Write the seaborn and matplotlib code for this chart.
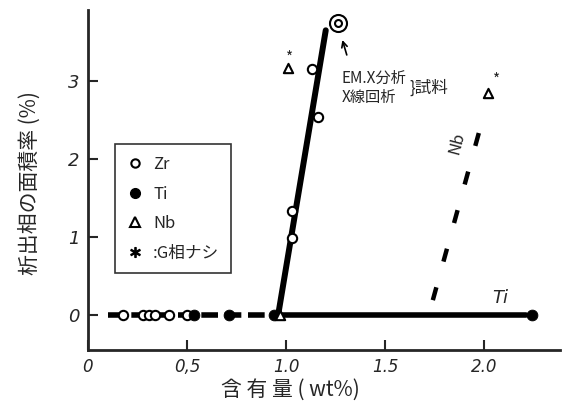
import numpy as np
import pandas as pd
import matplotlib
matplotlib.use("Agg")
import matplotlib.pyplot as plt
from matplotlib.lines import Line2D
import seaborn as sns

# data
zr_x = [0.18, 0.28, 0.31, 0.34, 0.41, 0.50, 1.03, 1.03, 1.16, 1.13]
zr_y = [0, 0, 0, 0, 0, 0, 0.99, 1.33, 2.54, 3.15]
ti_x = [0.535, 0.71, 0.94, 2.24]
ti_y = [0, 0, 0, 0]
nb_x = [0.97, 1.01, 2.02]
nb_y = [0, 3.17, 2.85]
emx_x = [1.26]
emx_y = [3.74]

# drawn lines
ti_dash_x = [0.10, 0.93]
ti_dash_y = [0, 0]
ti_solid_x = [0.97, 2.21]
ti_solid_y = [0, 0]
zr_line_x = [0.96, 1.20]
zr_line_y = [0, 3.65]
nb_line_x = [1.74, 1.99]
nb_line_y = [0.19, 2.50]

x_ticks = [0, 0.5, 1.0, 1.5, 2.0]
x_ticklabels = ["0", "0,5", "1.0", "1.5", "2.0"]
y_ticks = [0, 1, 2, 3]

sns.set_style("ticks")
plt.rcParams["font.family"] = ["Noto Sans CJK JP", "DejaVu Sans"]

fig = plt.figure(figsize=(5.7, 4.01), dpi=100)
ax = fig.add_axes([0.154, 0.127, 0.828, 0.848])

# lines
sns.lineplot(x=ti_dash_x, y=ti_dash_y, ax=ax, color="black", lw=4,
             linestyle=(0, (3, 1.2)))
sns.lineplot(x=ti_solid_x, y=ti_solid_y, ax=ax, color="black", lw=4)
sns.lineplot(x=zr_line_x, y=zr_line_y, ax=ax, color="black", lw=4.3)
sns.lineplot(x=nb_line_x, y=nb_line_y, ax=ax, color="black", lw=3.2,
             linestyle=(0, (3, 6)))

# markers
sns.scatterplot(x=zr_x, y=zr_y, ax=ax, marker="o", s=45, facecolor="white",
                edgecolor="black", linewidth=1.5, zorder=5)
sns.scatterplot(x=ti_x, y=ti_y, ax=ax, marker="o", s=60, color="black",
                edgecolor="black", zorder=6)
sns.scatterplot(x=nb_x, y=nb_y, ax=ax, marker="^", s=45, facecolor="white",
                edgecolor="black", linewidth=1.5, zorder=7)
sns.scatterplot(x=emx_x, y=emx_y, ax=ax, marker="o", s=150, facecolor="white",
                edgecolor="black", linewidth=1.5, zorder=5)
sns.scatterplot(x=emx_x, y=emx_y, ax=ax, marker="o", s=25, facecolor="white",
                edgecolor="black", linewidth=1.5, zorder=6)

# annotations
ax.text(1.02, 3.29, "*", fontsize=11, ha="center", va="center")
ax.text(2.06, 3.01, "*", fontsize=11, ha="center", va="center")
ax.text(2.08, 0.22, "Ti", fontsize=13, family="DejaVu Sans", style="italic",
        ha="center", va="center")
ax.text(1.86, 2.2, "Nb", fontsize=12, rotation=75, ha="center", va="center")
ax.text(1.28, 2.91, "EM.X分析\nX線回析", fontsize=11, ha="left", va="center",
        linespacing=1.15)
ax.text(1.62, 2.91, "}試料", fontsize=12, ha="left", va="center")
ax.annotate("", xy=(1.28, 3.56), xytext=(1.31, 3.30),
            arrowprops=dict(arrowstyle="->", color="black", lw=1.2))

# legend
handles = [
    Line2D([], [], marker="o", ls="", mfc="white", mec="black", mew=1.5, ms=6),
    Line2D([], [], marker="o", ls="", mfc="black", mec="black", ms=7),
    Line2D([], [], marker="^", ls="", mfc="white", mec="black", mew=1.5, ms=7),
    Line2D([], [], marker="$*$", ls="", color="black", ms=7),
]
labels = ["Zr", "Ti", "Nb", ":G相ナシ"]
leg = ax.legend(handles, labels, loc="lower left", bbox_to_anchor=(0.057, 0.226),
                fontsize=12, frameon=True, fancybox=False, edgecolor="black",
                labelspacing=0.75, handlelength=1.0, handletextpad=0.6,
                borderpad=0.7, borderaxespad=0)
leg.get_frame().set_linewidth(1.2)

# axes
ax.set_xlim(0, 2.38)
ax.set_ylim(-0.45, 3.91)
ax.set_xticks(x_ticks)
ax.set_xticklabels(x_ticklabels, family="DejaVu Sans", style="italic", fontsize=12)
ax.set_yticks(y_ticks)
ax.set_yticklabels([str(t) for t in y_ticks], family="DejaVu Sans",
                   style="italic", fontsize=13)
ax.tick_params(direction="in", length=7, width=1.5, pad=6)
sns.despine(ax=ax)
ax.spines["left"].set_linewidth(2)
ax.spines["bottom"].set_linewidth(2)

ax.set_xlabel("含 有 量 ( wt%)", fontsize=15)
ax.xaxis.set_label_coords(0.43, -0.085)
ax.set_ylabel("析出相の面積率 (%)", fontsize=15)
ax.yaxis.set_label_coords(-0.10, 0.49)

plt.savefig("out.png", dpi=100)
